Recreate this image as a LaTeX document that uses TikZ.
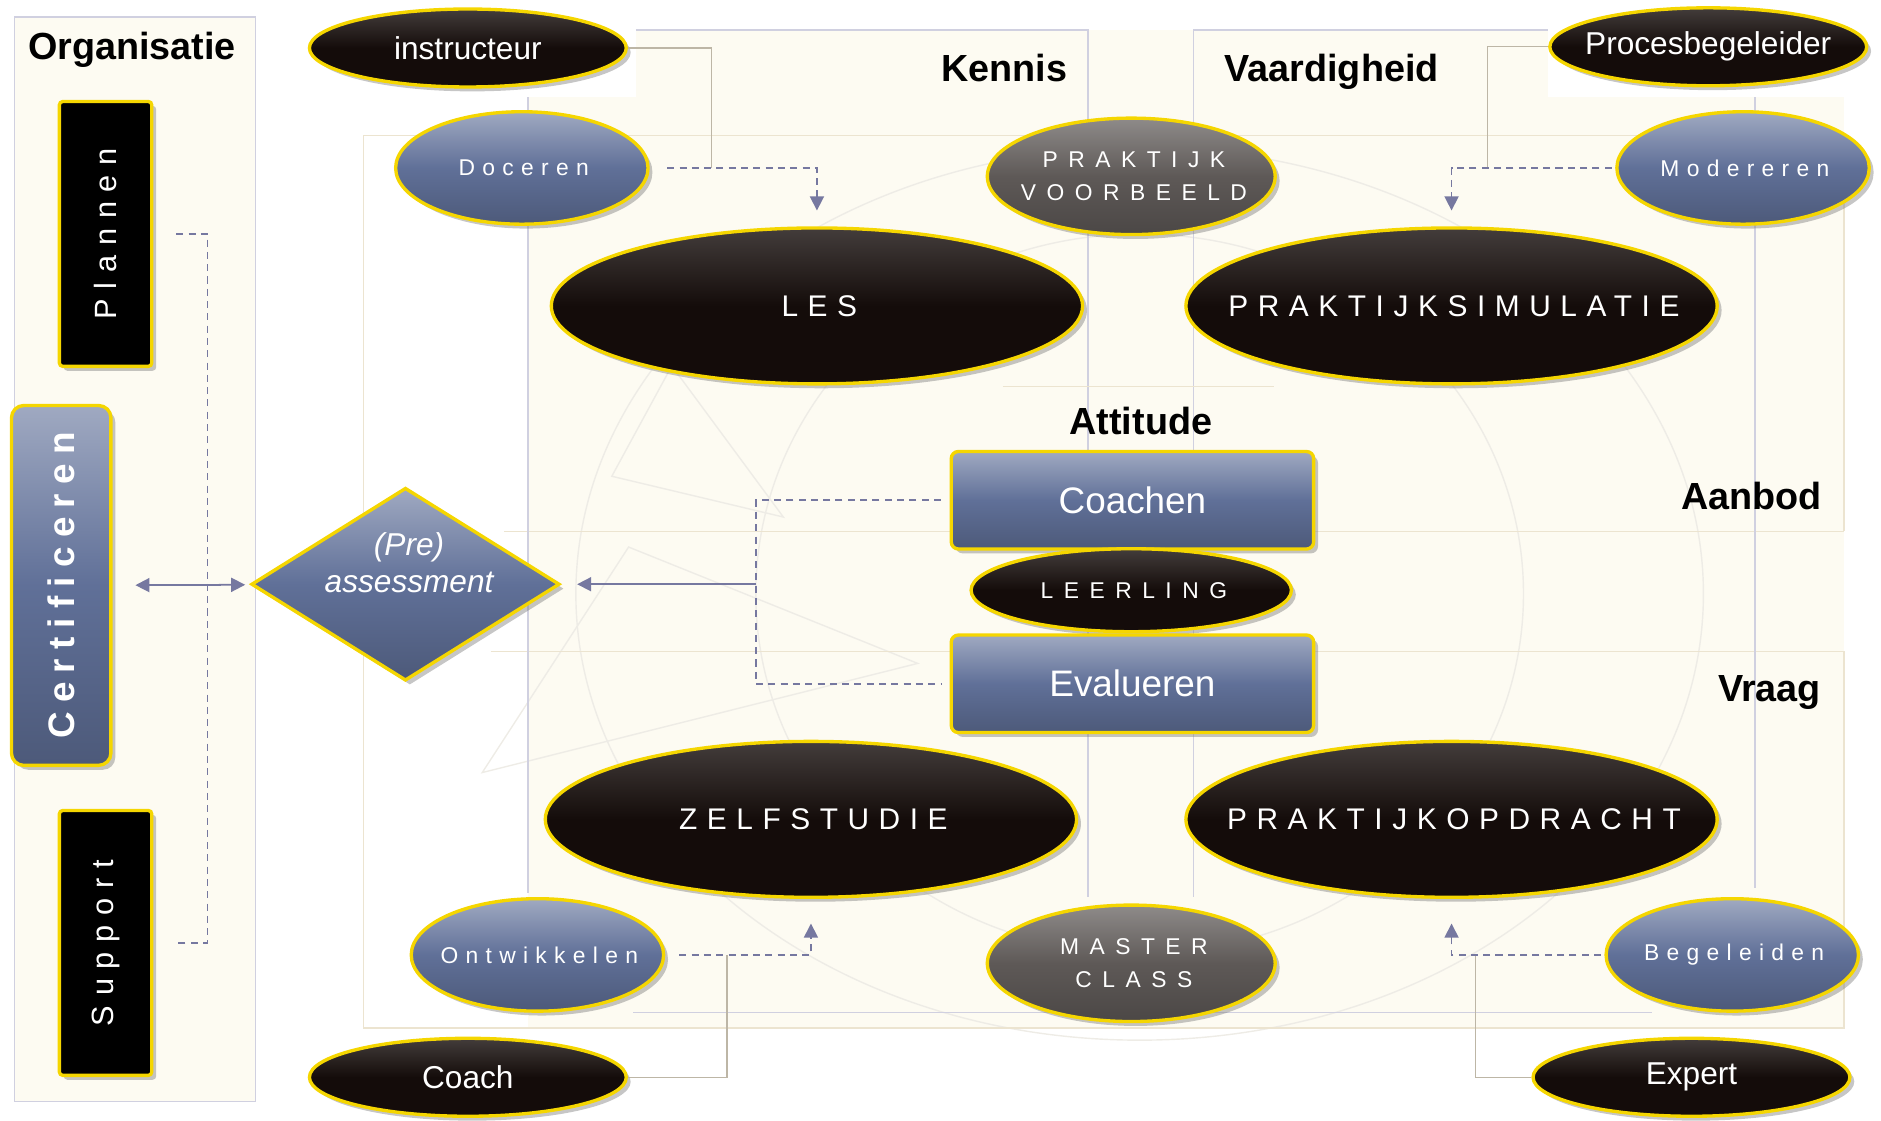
\documentclass[tikz,border=0pt]{standalone}
\usepackage{fontspec}
\setmainfont{Liberation Sans}
\newfontfamily\spreadfont[LetterSpace=32]{Liberation Sans}
\newfontfamily\widefont[LetterSpace=46]{Liberation Sans}
\newfontfamily\boldspread[LetterSpace=25]{Liberation Sans}
\usetikzlibrary{arrows.meta,shapes.geometric,shadows}
\newcommand{\ctext}[1]{\makebox[0pt]{#1}}
\newcommand{\stext}[1]{\makebox[0pt]{\hspace{.16em}#1}}
\newcommand{\wtext}[1]{\makebox[0pt]{\hspace{.23em}#1}}

\definecolor{rim}{RGB}{245,214,0}
\definecolor{ink}{RGB}{20,12,10}
\definecolor{slate}{RGB}{96,112,152}
\definecolor{stone}{RGB}{94,89,87}
\definecolor{cream}{RGB}{253,251,242}
\definecolor{lav}{RGB}{208,208,224}
\definecolor{sand}{RGB}{236,228,208}
\definecolor{ringc}{RGB}{238,236,230}
\definecolor{link}{RGB}{118,120,160}

\begin{document}
\begin{tikzpicture}[x=0.024cm, y=-0.024cm,
    glow/.style={draw=rim, line width=1.9pt, text=white,
      drop shadow={shadow xshift=2.5pt, shadow yshift=-2.5pt, opacity=.45}},
    darkfill/.style={top color=ink!80!white, bottom color=ink, middle color=ink},
    bluefill/.style={top color=slate!60!white, bottom color=slate!80!black, middle color=slate},
    greyfill/.style={top color=stone!70!white, bottom color=stone!80!black, middle color=stone},
    role/.style={ellipse, glow, darkfill, inner sep=0pt, minimum width=6.34cm,
      minimum height=1.56cm, font=\fontsize{18}{20}\selectfont},
    task/.style={ellipse, glow, bluefill, inner sep=0pt, minimum width=5.05cm,
      minimum height=2.25cm, font=\spreadfont\fontsize{13}{15}\selectfont},
    form/.style={ellipse, glow, darkfill, inner sep=0pt, minimum width=10.63cm,
      minimum height=3.12cm, font=\spreadfont\fontsize{17}{19}\selectfont},
    casebox/.style={ellipse, glow, greyfill, inner sep=0pt, align=center, minimum width=5.76cm,
      minimum height=2.33cm, font=\widefont\fontsize{13}{18.5}\selectfont},
    act/.style={rectangle, rounded corners=4pt, glow, bluefill, minimum width=7.25cm,
      minimum height=1.95cm, font=\fontsize{21}{24}\selectfont},
    orgbar/.style={rectangle, rounded corners=2pt, glow, minimum width=1.85cm,
      minimum height=5.3cm, font=\spreadfont\fontsize{17.5}{20}\selectfont},
    head/.style={anchor=base, font=\bfseries\fontsize{21.5}{24}\selectfont},
    dlink/.style={draw=link, line width=0.9pt, dash pattern=on 4pt off 3pt},
    tip/.style={-{Triangle[width=8pt,length=8pt]}},
    faint/.style={draw=sand!80!black, line width=0.8pt},
    grid/.style={line width=0.8pt},
  ]
  \path[use as bounding box] (0,0) rectangle (1568,934);

  % background panels
  \fill[cream] (440,81) rectangle (1537,857);
  \fill[cream] (530,25) rectangle (1290,113);
  \draw[grid, lav, fill=cream] (12,14) rectangle (213,918);
  \draw[grid, ringc] (950,495) ellipse [x radius=11.28cm, y radius=8.93cm];
  \draw[grid, ringc] (950,495) ellipse [x radius=7.68cm, y radius=7.2cm];
  \draw[grid, ringc] (524,456) -- (765,553) -- (402,644) -- cycle;
  \draw[grid, ringc] (510,397) -- (560,305) -- (653,431) -- cycle;
  \draw[grid, lav] (530,25) -| (907,748);
  \draw[grid, lav] (1290,25) -| (995,748);
  \draw[grid, sand] (1537,443) |- (303,113) |- (1537,857) -- (1537,543);
  \draw[grid, sand] (420,443) -- (1537,443);
  \draw[grid, sand] (409,543) -- (1537,543);
  \draw[grid, lav] (440,81) -- (440,744);
  \draw[grid, lav] (1463,81) -- (1463,740);
  \draw[grid, lav] (528,844) -- (1377,844);
  \draw[grid, sand] (836,322) -- (1062,322);

  % headings
  \node[head] (Org) at (110,50) {Organisatie};
  \node[head] (Ken) at (837,68) {Kennis};
  \node[head] (Vaa) at (1110,68) {Vaardigheid};
  \node[head] (Att) at (951,362) {Attitude};
  \node[head] (Aan) at (1460,425) {Aanbod};
  \node[head] (Vra) at (1475,585) {Vraag};

  % roles
  \node[role] (Ins) at (390,40) {\ctext{instructeur}};
  \node[role] (Pro) at (1424,39) {\ctext{Procesbegeleider}};
  \node[role] (Cch) at (390,898) {\ctext{Coach}};
  \node[role] (Exp) at (1410,898) {\ctext{Expert}};

  % tasks
  \node[task] (Doc) at (435,140) {\stext{Doceren}};
  \node[task] (Mod) at (1453,140) {\stext{Modereren}};
  \node[task] (Ont) at (448,796) {\stext{Ontwikkelen}};
  \node[task] (Beg) at (1444,796) {\stext{Begeleiden}};

  % learning forms
  \node[casebox] (PV) at (943,147) {\wtext{PRAKTIJK}\\\wtext{VOORBEELD}};
  \node[casebox] (MC) at (943,803) {\wtext{MASTER}\\\wtext{CLASS}};
  \node[form] (Les) at (681,255) {\stext{LES}};
  \node[form] (PSim) at (1210,255) {\stext{PRAKTIJKSIMULATIE}};
  \node[form] (Zelf) at (676,683) {\stext{ZELFSTUDIE}};
  \node[form] (POpd) at (1210,683) {\stext{PRAKTIJKOPDRACHT}};

  % centre
  \node[act] (Coa) at (944,417) {Coachen};
  \node[ellipse, glow, darkfill, inner sep=0pt, minimum width=6.41cm, minimum height=1.66cm,
    font=\widefont\fontsize{13}{15}\selectfont] (Lrl) at (943,492) {\wtext{LEERLING}};
  \node[act] (Eva) at (944,570) {Evalueren};

  % organisation
  \node[orgbar, fill=black] (Pla) at (88,195) {\rotatebox{90}{Plannen}};
  \node[orgbar, bluefill, rounded corners=7pt, minimum width=1.99cm, minimum height=7.2cm,
    font=\boldspread\bfseries\fontsize{21}{23}\selectfont] (Cer) at (51,488) {\rotatebox{90}{Certificeren}};
  \node[orgbar, fill=black] (Sup) at (88,786) {\rotatebox{90}{Support}};
  \node[diamond, glow, bluefill, inner sep=0pt, minimum width=6.17cm, minimum height=3.86cm] (Ass) at (338,487) {};
  \node[text=white, align=center, font=\itshape\fontsize{18}{21}\selectfont] (AssT) at (341,469) {(Pre)\\assessment};

  % connectors
  \coordinate (InsJ) at (593,140);
  \coordinate (ProJ) at (1240,140);
  \coordinate (CchJ) at (606,796);
  \coordinate (ExpJ) at (1230,796);
  \coordinate (Brk) at (630,487);
  \coordinate (OrgJ) at (173,490);
  \draw[faint] (Ins.east) -| (InsJ);
  \draw[faint] (Pro.west) -| (ProJ);
  \draw[faint] (Cch.east) -| (CchJ);
  \draw[faint] (Exp.west) -| (ExpJ);
  \draw[dlink, tip, shorten <=10pt, shorten >=9pt] (Doc) -| (Les);
  \draw[dlink, tip, shorten <=2pt, shorten >=9pt] (Mod) -| (PSim);
  \draw[dlink, tip, shorten <=8pt, shorten >=14pt] (Ont) -| (Zelf);
  \draw[dlink, tip, shorten <=2pt, shorten >=14pt] (Beg) -| (POpd);
  \draw[dlink, shorten <=5pt, shorten >=5pt] (Coa.west) -| (Brk) |- (Eva.west);
  \draw[draw=link, line width=1pt, tip, shorten >=9pt] (Brk) -- (Ass);
  \draw[dlink, shorten <=13pt, shorten >=13pt] (Pla.east) -| (OrgJ) |- (Sup.east);
  \draw[draw=link, line width=1pt, {Triangle[width=8pt,length=8pt]}-{Triangle[width=8pt,length=8pt]},
    shorten <=13pt, shorten >=3pt] (Cer) -- (Ass);
\end{tikzpicture}
\end{document}
